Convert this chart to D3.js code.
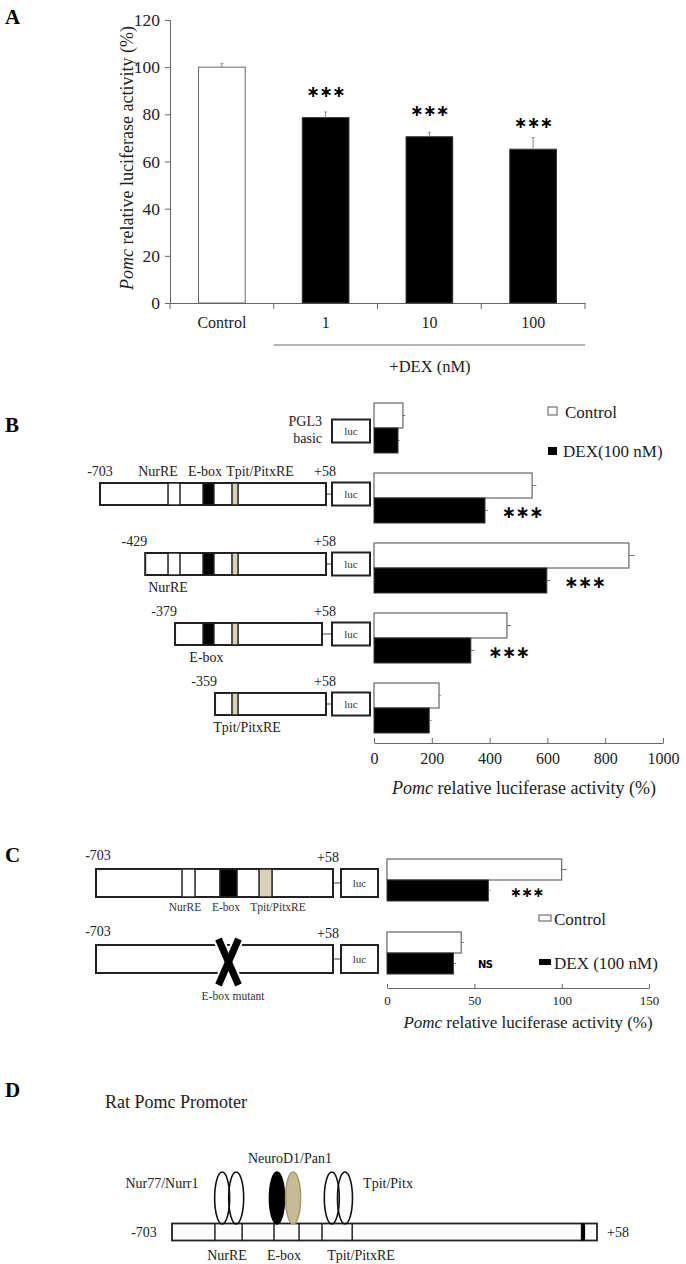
<!DOCTYPE html>
<html>
<head>
<meta charset="utf-8">
<script src="https://cdn.jsdelivr.net/npm/d3@7"></script>
<style>
  body { margin: 0; background: #fff; }
  svg { font-family: "Liberation Serif", "Times New Roman", serif; }
</style>
</head>
<body>
<svg id="fig" width="686" height="1264"></svg>
<script>
// ---- panel A data
const catsA = ["Control", "1", "10", "100"];
const valsA = [100, 78.6, 70.5, 65.2];
const errA = [1.5, 2.4, 1.9, 4.9];
const sigA = ["", "***", "***", "***"];
const ticksA = [0, 20, 40, 60, 80, 100, 120];

// ---- panel B data
const rowsB = ["PGL3", "-703", "-429", "-379", "-359"];
const ctrlB = [100, 547, 882, 460, 225];
const dexB = [83, 384, 598, 335, 191];
const ctrlErrB = [8, 15, 20, 14, 6];
const dexErrB = [6, 10, 12, 12, 8];
const sigB = ["", "***", "***", "***", ""];
const ticksB = [0, 200, 400, 600, 800, 1000];

// ---- panel C data
const rowsC = ["wt", "mut"];
const ctrlC = [100, 42.5];
const dexC = [58, 38];
const ctrlErrC = [3, 1.5];
const dexErrC = [1, 1.5];
const sigC = ["***", "NS"];
const ticksC = [0, 50, 100, 150];

const svg = d3.select("#fig");
const grey = "#666";
const tan = "#d9d2b6";
const star = s => s.replace(/\*/g, "\u2217");

function panelLetter(t, x, y) {
  svg.append("text").attr("x", x).attr("y", y)
    .attr("font-size", 21).attr("font-weight", "bold").text(t);
}

// =================== A ===================
panelLetter("A", 5, 24);
const yA = d3.scaleLinear().domain([0, 120]).range([303, 20]);
const xA = d3.scaleBand().domain(catsA).range([170, 585]).paddingInner(0.55).paddingOuter(0.275);
const gA = svg.append("g");

gA.append("g").attr("transform", "translate(170,0)")
  .call(d3.axisLeft(yA).tickValues(ticksA).tickSize(5).tickPadding(5))
  .call(g => g.selectAll("line,path").attr("stroke", grey))
  .call(g => g.selectAll("text").attr("font-size", 17.5).attr("font-family", "Liberation Serif").attr("fill", "#222"));

gA.append("g").attr("transform", "translate(0,303)")
  .call(d3.axisBottom(xA).tickSize(0).tickPadding(14))
  .call(g => g.select("path").attr("stroke", grey))
  .call(g => g.selectAll("text").attr("font-size", 16).attr("font-family", "Liberation Serif").attr("fill", "#222"));

// category boundary ticks
const stepA = xA.step();
const bounds = catsA.map(c => xA(c) - (stepA - xA.bandwidth()) / 2).concat([585]);
gA.selectAll(".bt").data(bounds).enter().append("line")
  .attr("x1", d => d).attr("x2", d => d).attr("y1", 303).attr("y2", 309)
  .attr("stroke", grey);

gA.selectAll(".barA").data(catsA).enter().append("rect")
  .attr("x", d => xA(d)).attr("width", xA.bandwidth())
  .attr("y", (d, i) => yA(valsA[i])).attr("height", (d, i) => yA(0) - yA(valsA[i]))
  .attr("fill", (d, i) => i === 0 ? "#fff" : "#000")
  .attr("stroke", (d, i) => i === 0 ? grey : "#333").attr("stroke-width", 1);

gA.selectAll(".errA").data(catsA).enter().append("line")
  .attr("x1", d => xA(d) + xA.bandwidth() / 2).attr("x2", d => xA(d) + xA.bandwidth() / 2)
  .attr("y1", (d, i) => yA(valsA[i])).attr("y2", (d, i) => yA(valsA[i] + errA[i]))
  .attr("stroke", "#888");
gA.selectAll(".errAc").data(catsA).enter().append("line")
  .attr("x1", d => xA(d) + xA.bandwidth() / 2 - 1.5).attr("x2", d => xA(d) + xA.bandwidth() / 2 + 1.5)
  .attr("y1", (d, i) => yA(valsA[i] + errA[i])).attr("y2", (d, i) => yA(valsA[i] + errA[i]))
  .attr("stroke", "#888");

gA.selectAll(".sigA").data(catsA).enter().append("text")
  .attr("x", d => xA(d) + xA.bandwidth() / 2)
  .attr("y", (d, i) => yA(valsA[i]) - 21)
  .attr("text-anchor", "middle").attr("font-size", 16).attr("font-weight", "bold")
  .attr("font-family", "DejaVu Sans").attr("letter-spacing", -0.5)
  .text((d, i) => star(sigA[i]));

// y label
const ylab = gA.append("text").attr("transform", "translate(133,158) rotate(-90)")
  .attr("text-anchor", "middle").attr("font-size", 18).attr("fill", "#222");
ylab.append("tspan").attr("font-style", "italic").text("Pomc");
ylab.append("tspan").text(" relative luciferase activity (%)");

gA.append("line").attr("x1", bounds[1]).attr("x2", 585).attr("y1", 345).attr("y2", 345).attr("stroke", grey);
gA.append("text").attr("x", 430).attr("y", 372).attr("text-anchor", "middle")
  .attr("font-size", 16.5).attr("fill", "#222").text("+DEX (nM)");

// =================== construct helpers ===================
function lucBox(g, x, yc, w, h) {
  g.append("rect").attr("x", x).attr("y", yc - h / 2).attr("width", w).attr("height", h)
    .attr("fill", "#fff").attr("stroke", "#222").attr("stroke-width", 2);
  g.append("text").attr("x", x + w / 2).attr("y", yc + 4).attr("text-anchor", "middle")
    .attr("font-size", 11).attr("fill", "#333").text("luc");
}

// =================== B ===================
panelLetter("B", 5, 432);
const xB = d3.scaleLinear().domain([0, 1000]).range([374, 663]);
const rowB = d3.scalePoint().domain(rowsB).range([428, 708]);
const gB = svg.append("g");
const bh = 25;

gB.append("g").attr("transform", "translate(0,743)")
  .call(d3.axisBottom(xB).tickValues(ticksB).tickFormat(d3.format("d")).tickSize(-5).tickSizeOuter(0).tickPadding(10))
  .call(g => g.selectAll("line,path").attr("stroke", grey))
  .call(g => g.selectAll("text").attr("font-size", 16).attr("font-family", "Liberation Serif").attr("fill", "#222"));

gB.selectAll(".cB").data(rowsB).enter().append("rect")
  .attr("x", xB(0)).attr("y", d => rowB(d) - bh).attr("height", bh)
  .attr("width", (d, i) => xB(ctrlB[i]) - xB(0))
  .attr("fill", "#fff").attr("stroke", grey).attr("stroke-width", 1.2);
gB.selectAll(".dB").data(rowsB).enter().append("rect")
  .attr("x", xB(0)).attr("y", d => rowB(d)).attr("height", bh)
  .attr("width", (d, i) => xB(dexB[i]) - xB(0))
  .attr("fill", "#000").attr("stroke", "#333");
// errors
gB.selectAll(".ceB").data(rowsB).enter().append("line")
  .attr("x1", (d, i) => xB(ctrlB[i])).attr("x2", (d, i) => xB(ctrlB[i] + ctrlErrB[i]))
  .attr("y1", d => rowB(d) - bh / 2).attr("y2", d => rowB(d) - bh / 2).attr("stroke", "#777");
gB.selectAll(".deB").data(rowsB).enter().append("line")
  .attr("x1", (d, i) => xB(dexB[i])).attr("x2", (d, i) => xB(dexB[i] + dexErrB[i]))
  .attr("y1", d => rowB(d) + bh / 2).attr("y2", d => rowB(d) + bh / 2).attr("stroke", "#777");
gB.selectAll(".sB").data(rowsB).enter().append("text")
  .attr("x", (d, i) => xB(dexB[i] + dexErrB[i]) + 14)
  .attr("y", d => rowB(d) + bh / 2 + 7)
  .attr("font-size", 17).attr("font-weight", "bold").attr("font-family", "DejaVu Sans").attr("letter-spacing", -0.5)
  .text((d, i) => star(sigB[i]));

const xlB = gB.append("text").attr("x", 524).attr("y", 794).attr("text-anchor", "middle")
  .attr("font-size", 18).attr("fill", "#222");
xlB.append("tspan").attr("font-style", "italic").text("Pomc");
xlB.append("tspan").text("  relative luciferase activity (%)");

// legend B
gB.append("rect").attr("x", 548).attr("y", 407).attr("width", 9).attr("height", 8)
  .attr("fill", "#fff").attr("stroke", "#555");
gB.append("text").attr("x", 565).attr("y", 418).attr("font-size", 17).attr("fill", "#222").text("Control");
gB.append("rect").attr("x", 548).attr("y", 447).attr("width", 9).attr("height", 8).attr("fill", "#000");
gB.append("text").attr("x", 563).attr("y", 457).attr("font-size", 17).attr("fill", "#222").text("DEX(100 nM)");

// constructs B (schematic units 0..100 along promoter)
const sB = d3.scaleLinear().domain([0, 100]).range([100, 326]);
const startB = [null, 0, 20, 33.2, 50.9];
const elems = [
  { name: "NurRE", a: 30.1, b: 35.4, fill: "#fff" },
  { name: "E-box", a: 45.6, b: 50.4, fill: "#000" },
  { name: "Tpit/PitxRE", a: 58.4, b: 61.1, fill: tan }
];
const lucX = 332, lucW = 38;
rowsB.forEach((r, i) => {
  const yc = rowB(r) - 4, h = 22;
  if (i === 0) {
    lucBox(gB, lucX, rowB(r) + 3, lucW, 23);
    gB.append("text").attr("x", 322).attr("y", 426).attr("text-anchor", "end")
      .attr("font-size", 14).attr("fill", "#222").text("PGL3");
    gB.append("text").attr("x", 322).attr("y", 443).attr("text-anchor", "end")
      .attr("font-size", 14).attr("fill", "#222").text("basic");
    return;
  }
  const x0 = sB(startB[i]), x1 = sB(100) - (i === 3 ? 4 : 0);
  gB.append("line").attr("x1", x1).attr("x2", lucX).attr("y1", yc).attr("y2", yc).attr("stroke", "#444");
  gB.append("rect").attr("x", x0).attr("y", yc - h / 2).attr("width", x1 - x0).attr("height", h)
    .attr("fill", "#fff").attr("stroke", "#222").attr("stroke-width", 2);
  elems.filter(e => e.a > startB[i]).forEach(e => {
    gB.append("rect").attr("x", sB(e.a)).attr("y", yc - h / 2).attr("width", sB(e.b) - sB(e.a)).attr("height", h)
      .attr("fill", e.fill).attr("stroke", "#222").attr("stroke-width", 1.5);
  });
  lucBox(gB, lucX, yc, lucW, 23);
  gB.append("text").attr("x", i === 1 ? x0 : x0 + 2).attr("y", yc - 18)
    .attr("text-anchor", i === 1 ? "middle" : "end").attr("font-size", 14).attr("fill", "#222").text(r);
  gB.append("text").attr("x", 325).attr("y", yc - 18).attr("text-anchor", "middle")
    .attr("font-size", 14).attr("fill", "#222").text("+58");
  if (i === 1) {
    [["NurRE", 158], ["E-box", 205], ["Tpit/PitxRE", 260]].forEach(([t, x]) =>
      gB.append("text").attr("x", x).attr("y", yc - 18).attr("text-anchor", "middle")
        .attr("font-size", 14).attr("fill", "#222").text(t));
  } else {
    const e = elems.find(e => e.a > startB[i]);
    const off = { "NurRE": -6, "E-box": -2, "Tpit/PitxRE": 12 }[e.name];
    gB.append("text").attr("x", (sB(e.a) + sB(e.b)) / 2 + off).attr("y", yc + 28)
      .attr("text-anchor", "middle").attr("font-size", 14).attr("fill", "#222").text(e.name);
  }
});

// =================== C ===================
panelLetter("C", 5, 862);
const xC = d3.scaleLinear().domain([0, 150]).range([387, 649]);
const rowC = d3.scalePoint().domain(rowsC).range([880, 953]);
const gC = svg.append("g");
const ch = 21;

gC.append("g").attr("transform", "translate(0,988)")
  .call(d3.axisBottom(xC).tickValues(ticksC).tickSize(-4).tickSizeOuter(0).tickPadding(8))
  .call(g => g.selectAll("line,path").attr("stroke", grey))
  .call(g => g.selectAll("text").attr("font-size", 13).attr("font-family", "Liberation Serif").attr("fill", "#222"));

gC.selectAll(".cC").data(rowsC).enter().append("rect")
  .attr("x", xC(0)).attr("y", d => rowC(d) - ch).attr("height", ch)
  .attr("width", (d, i) => xC(ctrlC[i]) - xC(0))
  .attr("fill", "#fff").attr("stroke", grey).attr("stroke-width", 1.2);
gC.selectAll(".dC").data(rowsC).enter().append("rect")
  .attr("x", xC(0)).attr("y", d => rowC(d)).attr("height", ch)
  .attr("width", (d, i) => xC(dexC[i]) - xC(0))
  .attr("fill", "#000").attr("stroke", "#333");
gC.selectAll(".ceC").data(rowsC).enter().append("line")
  .attr("x1", (d, i) => xC(ctrlC[i])).attr("x2", (d, i) => xC(ctrlC[i] + ctrlErrC[i]))
  .attr("y1", d => rowC(d) - ch / 2).attr("y2", d => rowC(d) - ch / 2).attr("stroke", "#777");
gC.selectAll(".deC").data(rowsC).enter().append("line")
  .attr("x1", (d, i) => xC(dexC[i])).attr("x2", (d, i) => xC(dexC[i] + dexErrC[i]))
  .attr("y1", d => rowC(d) + ch / 2).attr("y2", d => rowC(d) + ch / 2).attr("stroke", "#777");
gC.selectAll(".sC").data(rowsC).enter().append("text")
  .attr("x", (d, i) => xC(dexC[i] + dexErrC[i]) + (sigC[i] === "NS" ? 22 : 20))
  .attr("y", (d, i) => rowC(d) + ch / 2 + (sigC[i] === "NS" ? 4 : 6))
  .attr("font-size", (d, i) => sigC[i] === "NS" ? 10 : 14)
  .attr("font-weight", "bold").attr("font-family", "DejaVu Sans").attr("letter-spacing", -0.5)
  .text((d, i) => star(sigC[i]));

const xlC = gC.append("text").attr("x", 528).attr("y", 1028).attr("text-anchor", "middle")
  .attr("font-size", 17).attr("fill", "#222");
xlC.append("tspan").attr("font-style", "italic").text("Pomc");
xlC.append("tspan").text("  relative luciferase activity (%)");

gC.append("rect").attr("x", 539).attr("y", 915).attr("width", 12).attr("height", 6)
  .attr("fill", "#fff").attr("stroke", "#555");
gC.append("text").attr("x", 554).attr("y", 925).attr("font-size", 17).attr("fill", "#222").text("Control");
gC.append("rect").attr("x", 539).attr("y", 959).attr("width", 12).attr("height", 6).attr("fill", "#000");
gC.append("text").attr("x", 554).attr("y", 969).attr("font-size", 17).attr("fill", "#222").text("DEX (100 nM)");

// constructs C
const sC = d3.scaleLinear().domain([0, 100]).range([96, 333]);
const elemsC = [
  { name: "NurRE", a: 36.3, b: 41.8, fill: "#fff" },
  { name: "E-box", a: 52.3, b: 59.5, fill: "#000" },
  { name: "Tpit/PitxRE", a: 68.8, b: 74.3, fill: tan }
];
rowsC.forEach((r, i) => {
  const yc = i === 0 ? 883 : 959, h = 28;
  gC.append("line").attr("x1", sC(100)).attr("x2", 341).attr("y1", yc).attr("y2", yc).attr("stroke", "#444");
  gC.append("rect").attr("x", sC(0)).attr("y", yc - h / 2).attr("width", sC(100) - sC(0)).attr("height", h)
    .attr("fill", "#fff").attr("stroke", "#222").attr("stroke-width", 2);
  lucBox(gC, 341, yc, 37, 28);
  gC.append("text").attr("x", 98).attr("y", yc - 23).attr("text-anchor", "middle")
    .attr("font-size", 14).attr("fill", "#222").text("-703");
  gC.append("text").attr("x", 328).attr("y", yc - 21).attr("text-anchor", "middle")
    .attr("font-size", 14).attr("fill", "#222").text("+58");
  if (i === 0) {
    elemsC.forEach(e => {
      gC.append("rect").attr("x", sC(e.a)).attr("y", yc - h / 2).attr("width", sC(e.b) - sC(e.a)).attr("height", h)
        .attr("fill", e.fill).attr("stroke", "#222").attr("stroke-width", 1.5);
    });
    [["NurRE", 185], ["E-box", 226], ["Tpit/PitxRE", 278]].forEach(([t, x]) =>
      gC.append("text").attr("x", x).attr("y", yc + 28).attr("text-anchor", "middle")
        .attr("font-size", 11.5).attr("fill", "#333").text(t));
  } else {
    const cx = sC(55.9);
    const xs = [[-10, -20, 10, 26], [10, -20, -10, 26]];
    xs.forEach(([a, b, c, d]) => {
      gC.append("line").attr("x1", cx + a).attr("y1", yc + b).attr("x2", cx + c).attr("y2", yc + d)
        .attr("stroke", "#fff").attr("stroke-width", 11);
    });
    xs.forEach(([a, b, c, d]) => {
      gC.append("line").attr("x1", cx + a).attr("y1", yc + b).attr("x2", cx + c).attr("y2", yc + d)
        .attr("stroke", "#000").attr("stroke-width", 7);
    });
    gC.append("text").attr("x", 233).attr("y", yc + 41).attr("text-anchor", "middle")
      .attr("font-size", 11.5).attr("fill", "#333").text("E-box mutant");
  }
});

// =================== D ===================
panelLetter("D", 5, 1097);
const gD = svg.append("g");
gD.append("text").attr("x", 105).attr("y", 1108).attr("font-size", 18).attr("fill", "#222").text("Rat Pomc Promoter");
const sD = d3.scaleLinear().domain([0, 100]).range([172, 597]);
const yD = 1232, hD = 17;
gD.append("rect").attr("x", sD(0)).attr("y", yD - hD / 2).attr("width", sD(100) - sD(0)).attr("height", hD)
  .attr("fill", "#fff").attr("stroke", "#222").attr("stroke-width", 1.8);
[10.1, 16.5, 24, 29.9, 35.3, 42.4].forEach(p =>
  gD.append("line").attr("x1", sD(p)).attr("x2", sD(p)).attr("y1", yD - hD / 2).attr("y2", yD + hD / 2)
    .attr("stroke", "#222").attr("stroke-width", 1.5));
gD.append("rect").attr("x", sD(96.2)).attr("y", yD - hD / 2).attr("width", sD(97.2) - sD(96.2)).attr("height", hD).attr("fill", "#000");

const ovals = [
  { p: 11.8, fill: "#fff", stroke: "#111" }, { p: 15.1, fill: "#fff", stroke: "#111" },
  { p: 24.7, fill: "#000", stroke: "#000" }, { p: 28.5, fill: "#c6bb94", stroke: "#a69a70" },
  { p: 37.6, fill: "#fff", stroke: "#111" }, { p: 40.7, fill: "#fff", stroke: "#111" }
];
gD.selectAll(".ov").data(ovals).enter().append("ellipse")
  .attr("cx", d => sD(d.p)).attr("cy", 1198).attr("rx", 7.5).attr("ry", 26)
  .attr("fill", d => d.fill).attr("fill-opacity", d => d.fill === "#fff" ? 0 : 1)
  .attr("stroke", d => d.stroke).attr("stroke-width", 1.6);

[["Nur77/Nurr1", 162, 1188], ["NeuroD1/Pan1", 290, 1163], ["Tpit/Pitx", 388, 1188]].forEach(([t, x, y]) =>
  gD.append("text").attr("x", x).attr("y", y).attr("text-anchor", "middle")
    .attr("font-size", 14).attr("fill", "#222").text(t));
gD.append("text").attr("x", 144).attr("y", 1237).attr("text-anchor", "middle")
  .attr("font-size", 14).attr("fill", "#222").text("-703");
gD.append("text").attr("x", 618).attr("y", 1237).attr("text-anchor", "middle")
  .attr("font-size", 14).attr("fill", "#222").text("+58");
[["NurRE", 227], ["E-box", 284], ["Tpit/PitxRE", 361]].forEach(([t, x]) =>
  gD.append("text").attr("x", x).attr("y", 1260).attr("text-anchor", "middle")
    .attr("font-size", 14).attr("fill", "#222").text(t));
</script>
</body>
</html>
